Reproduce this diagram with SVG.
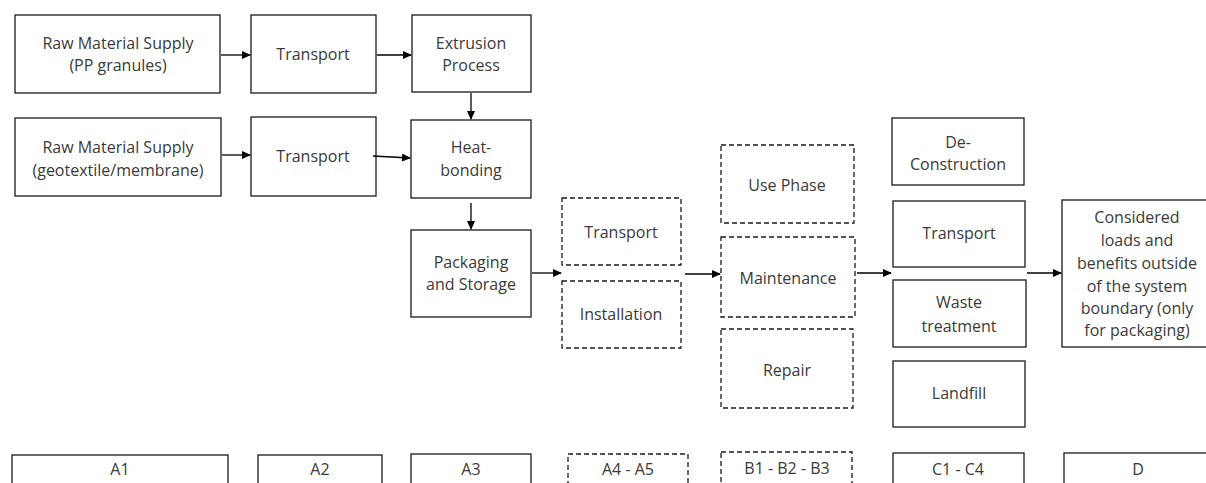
<svg xmlns="http://www.w3.org/2000/svg" width="1206" height="483" viewBox="0 0 1206 483">
<style>
.b{fill:#fff;stroke:#1a1a1a;stroke-width:1.3}
.d{fill:#fff;stroke:#1a1a1a;stroke-width:1.3;stroke-dasharray:5 3}
text{font-family:"Open Sans","Liberation Sans",sans-serif;font-size:16px;fill:#3a3a3a;text-anchor:middle}
.c line{stroke:#000;stroke-width:1.3;marker-end:url(#ah)}
</style>
<defs>
<marker id="ah" markerWidth="9" markerHeight="8" refX="8" refY="4" orient="auto" markerUnits="userSpaceOnUse">
<path d="M0,0 L9,4 L0,8 Z" fill="#000"/>
</marker>
</defs>
<rect width="1206" height="483" fill="#fff"/>
<g id="raw1"><rect class="b" x="15" y="15" width="205" height="78"/><text x="118" y="49">Raw Material Supply</text><text x="118" y="71">(PP granules)</text></g>
<g id="transport1"><rect class="b" x="251" y="15" width="125" height="78"/><text x="313" y="60">Transport</text></g>
<g id="extrusion"><rect class="b" x="412" y="15" width="119" height="77"/><text x="471" y="49">Extrusion</text><text x="471" y="71">Process</text></g>
<g id="raw2"><rect class="b" x="15" y="118" width="206" height="78"/><text x="118" y="153">Raw Material Supply</text><text x="118" y="176">(geotextile/membrane)</text></g>
<g id="transport2"><rect class="b" x="251" y="117" width="125" height="79"/><text x="313" y="162">Transport</text></g>
<g id="heat"><rect class="b" x="411" y="120" width="120" height="78"/><text x="471" y="153">Heat-</text><text x="471" y="176">bonding</text></g>
<g id="packaging"><rect class="b" x="411" y="230" width="120" height="87"/><text x="471" y="268">Packaging</text><text x="471" y="290">and Storage</text></g>
<g id="transportA4"><rect class="d" x="562" y="198" width="119" height="67"/><text x="621" y="238">Transport</text></g>
<g id="installation"><rect class="d" x="562" y="281" width="119" height="67"/><text x="621" y="320">Installation</text></g>
<g id="use"><rect class="d" x="721" y="145" width="133" height="78"/><text x="787" y="191">Use Phase</text></g>
<g id="maintenance"><rect class="d" x="721" y="237" width="134" height="80"/><text x="788" y="284">Maintenance</text></g>
<g id="repair"><rect class="d" x="721" y="329" width="132" height="79"/><text x="787" y="376">Repair</text></g>
<g id="deconstruction"><rect class="b" x="892" y="118" width="132" height="67"/><text x="958" y="148">De-</text><text x="958" y="170">Construction</text></g>
<g id="transportC"><rect class="b" x="893" y="201" width="132" height="66"/><text x="959" y="239">Transport</text></g>
<g id="waste"><rect class="b" x="893" y="280" width="133" height="67"/><text x="959" y="308">Waste</text><text x="959" y="332">treatment</text></g>
<g id="landfill"><rect class="b" x="893" y="361" width="132" height="66"/><text x="959" y="399">Landfill</text></g>
<g id="considered"><rect class="b" x="1062" y="200" width="150" height="147"/><text x="1137" y="223">Considered</text><text x="1137" y="246">loads and</text><text x="1137" y="269">benefits outside</text><text x="1137" y="292">of the system</text><text x="1137" y="314">boundary (only</text><text x="1137" y="336">for packaging)</text></g>
<g id="A1"><rect class="b" x="12" y="455" width="216" height="40"/><text x="120" y="475">A1</text></g>
<g id="A2"><rect class="b" x="258" y="455" width="124" height="40"/><text x="320" y="475">A2</text></g>
<g id="A3"><rect class="b" x="411" y="454" width="120" height="40"/><text x="471" y="475">A3</text></g>
<g id="A4A5"><rect class="d" x="568" y="454" width="120" height="40"/><text x="628" y="475">A4 - A5</text></g>
<g id="B1B3"><rect class="d" x="721" y="452" width="131" height="40"/><text x="787" y="474">B1 - B2 - B3</text></g>
<g id="C1C4"><rect class="b" x="893" y="453" width="131" height="40"/><text x="958" y="475">C1 - C4</text></g>
<g id="D"><rect class="b" x="1064" y="453" width="150" height="40"/><text x="1138" y="475">D</text></g>
<g class="c" id="connectors">
<line x1="221" y1="55" x2="250" y2="55"/>
<line x1="377" y1="55" x2="411" y2="55"/>
<line x1="471" y1="93" x2="471" y2="119"/>
<line x1="222" y1="155" x2="250" y2="155"/>
<line x1="373" y1="156" x2="410" y2="158"/>
<line x1="471" y1="203" x2="471" y2="229"/>
<line x1="532" y1="273" x2="561" y2="273"/>
<line x1="685" y1="274" x2="720" y2="274"/>
<line x1="857" y1="273" x2="891" y2="273"/>
<line x1="1027" y1="273" x2="1061" y2="273"/>
</g>
</svg>
